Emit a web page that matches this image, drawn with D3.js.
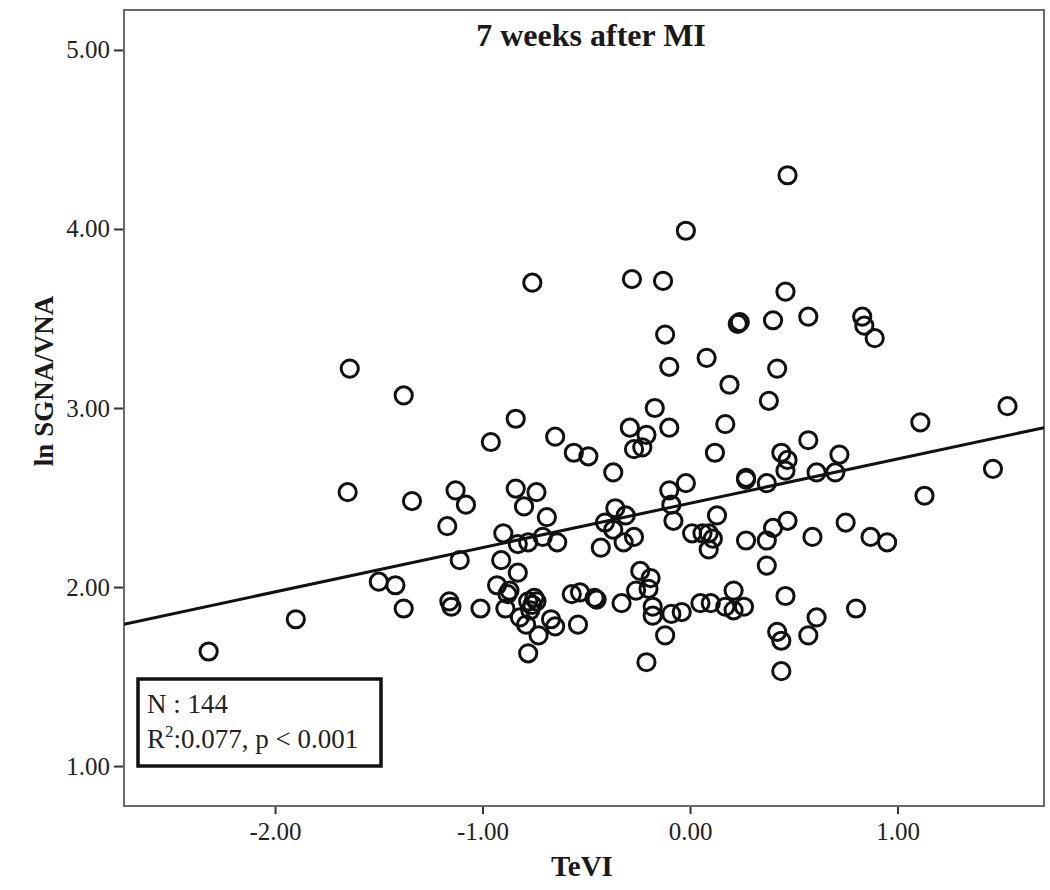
<!DOCTYPE html>
<html>
<head>
<meta charset="utf-8">
<script src="https://cdn.jsdelivr.net/npm/d3@7"></script>
<style>
  html, body { margin: 0; padding: 0; background: #fff; }
  svg { display: block; }
  text { font-family: "Liberation Serif", "Times New Roman", serif; }
</style>
</head>
<body>
<svg id="chart" width="1050" height="890"></svg>
<script>
// ---- data ----
const teVI = [
  -1.64,-1.38,-1.65,-1.34,-1.13,-1.08,-1.17,-1.50,-1.42,-1.38,-1.90,-2.32,-1.16,-1.15,
  -0.10,-0.17,-0.84,-0.96,-0.65,-0.29,-0.21,-0.10,-0.27,-0.23,-0.56,-0.49,-0.37,-0.84,
  -0.74,-0.80,-0.69,-0.90,-0.83,-0.78,-0.71,-0.64,-0.41,-0.36,-0.31,-0.37,-0.27,-0.32,
  -0.43,-0.10,-0.09,-0.08,-1.11,-0.91,-0.83,-0.93,-0.87,-0.88,-1.01,-0.89,-0.75,-0.74,
  -0.76,-0.82,-0.79,-0.73,-0.67,-0.65,-0.57,-0.53,-0.46,-0.45,-0.54,-0.78,-0.33,-0.24,
  -0.19,-0.26,-0.20,-0.18,-0.18,-0.09,-0.12,-0.21,
  0.08,0.42,0.19,0.38,0.17,0.57,0.12,0.44,0.47,0.46,0.72,0.61,0.70,0.27,0.27,0.37,-0.02,
  0.13,0.47,0.40,0.75,0.01,0.06,0.09,0.11,0.09,0.27,0.37,0.59,0.87,0.95,0.37,0.21,0.26,
  0.46,0.80,0.05,0.10,0.17,0.21,-0.04,0.42,0.44,0.61,0.57,0.44,
  0.47,-0.02,-0.13,0.46,0.23,0.24,0.40,0.57,0.83,0.84,0.89,-0.12,-0.76,-0.28,
  1.53,1.11,1.46,1.13,-0.77,-0.78
];
const lnSGNA = [
  3.22,3.07,2.53,2.48,2.54,2.46,2.34,2.03,2.01,1.88,1.82,1.64,1.92,1.89,
  3.23,3.00,2.94,2.81,2.84,2.89,2.85,2.89,2.77,2.78,2.75,2.73,2.64,2.55,
  2.53,2.45,2.39,2.30,2.24,2.25,2.28,2.25,2.36,2.44,2.40,2.32,2.28,2.25,
  2.22,2.54,2.46,2.37,2.15,2.15,2.08,2.01,1.98,1.96,1.88,1.88,1.94,1.92,
  1.90,1.83,1.79,1.73,1.82,1.78,1.96,1.97,1.94,1.93,1.79,1.63,1.91,2.09,
  2.05,1.98,1.99,1.89,1.84,1.85,1.73,1.58,
  3.28,3.22,3.13,3.04,2.91,2.82,2.75,2.75,2.71,2.65,2.74,2.64,2.64,2.61,2.60,2.58,2.58,
  2.40,2.37,2.33,2.36,2.30,2.30,2.30,2.27,2.21,2.26,2.26,2.28,2.28,2.25,2.12,1.98,1.89,
  1.95,1.88,1.91,1.91,1.89,1.87,1.86,1.75,1.70,1.83,1.73,1.53,
  4.30,3.99,3.71,3.65,3.47,3.48,3.49,3.51,3.51,3.46,3.39,3.41,3.70,3.72,
  3.01,2.92,2.66,2.51,1.87,1.92
];
const xTicks = [-2, -1, 0, 1];
const yTicks = [1, 2, 3, 4, 5];
const xDomain = [-2.728, 1.706];
const yDomain = [0.777, 5.223];
const fitSlope = 0.2476;
const fitIntercept = 2.468;
const titleText = "7 weeks after MI";
const xLabelText = "TeVI";
const yLabelText = "ln SGNA/VNA";
const statN = "N : 144";
const statR2 = ":0.077, p < 0.001";

// ---- layout ----
const svg = d3.select("#chart");
const L = 124, R = 1044, T = 10, B = 806;
const x = d3.scaleLinear().domain(xDomain).range([L, R]);
const y = d3.scaleLinear().domain(yDomain).range([B, T]);
const fmt = d => d.toFixed(2);

svg.append("rect").attr("width", 1050).attr("height", 890).attr("fill", "#fff");

// axes
const xAxis = svg.append("g").attr("transform", `translate(0,${B})`)
  .call(d3.axisBottom(x).tickValues(xTicks).tickFormat(fmt).tickSize(8).tickPadding(8));
const yAxis = svg.append("g").attr("transform", `translate(${L},0)`)
  .call(d3.axisLeft(y).tickValues(yTicks).tickFormat(fmt).tickSize(10).tickPadding(4));
[xAxis, yAxis].forEach(g => {
  g.select(".domain").remove();
  g.selectAll(".tick line").attr("stroke", "#333").attr("stroke-width", 2);
  g.selectAll(".tick text").attr("fill", "#222")
    .style("font-family", '"Liberation Serif", serif').style("font-size", "25px");
});

// frame
svg.append("rect").attr("x", L).attr("y", T).attr("width", R - L).attr("height", B - T)
  .attr("fill", "none").attr("stroke", "#6a6a6a").attr("stroke-width", 2);

// regression line
const clip = svg.append("clipPath").attr("id", "plotclip")
  .append("rect").attr("x", L).attr("y", T).attr("width", R - L).attr("height", B - T);
svg.append("line")
  .attr("clip-path", "url(#plotclip)")
  .attr("x1", x(xDomain[0])).attr("y1", y(fitIntercept + fitSlope * xDomain[0]))
  .attr("x2", x(xDomain[1])).attr("y2", y(fitIntercept + fitSlope * xDomain[1]))
  .attr("stroke", "#111").attr("stroke-width", 3);

// points
const pts = teVI.map((v, i) => ({ x: v, y: lnSGNA[i] }));
svg.append("g").selectAll("circle").data(pts).join("circle")
  .attr("cx", d => x(d.x)).attr("cy", d => y(d.y)).attr("r", 8.6)
  .attr("fill", "none").attr("stroke", "#111").attr("stroke-width", 3);

// title
svg.append("text").attr("x", 591).attr("y", 46).attr("text-anchor", "middle")
  .attr("font-weight", "bold").attr("font-size", 32).attr("fill", "#1a1a1a").text(titleText);

// axis labels
svg.append("text").attr("x", 582).attr("y", 876).attr("text-anchor", "middle")
  .attr("font-weight", "bold").attr("font-size", 29).attr("fill", "#1a1a1a").text(xLabelText);
svg.append("text").attr("transform", "translate(53,381) rotate(-90)").attr("text-anchor", "middle")
  .attr("font-weight", "bold").attr("font-size", 27).attr("fill", "#1a1a1a").text(yLabelText);

// stats box
svg.append("rect").attr("x", 138).attr("y", 679).attr("width", 243).attr("height", 87)
  .attr("fill", "#fff").attr("stroke", "#111").attr("stroke-width", 3.5);
svg.append("text").attr("x", 147).attr("y", 713).attr("font-size", 27).attr("fill", "#222").text(statN);
const t2 = svg.append("text").attr("x", 147).attr("y", 748).attr("font-size", 27).attr("fill", "#222");
t2.append("tspan").text("R");
t2.append("tspan").attr("dy", -11).attr("font-size", 17).text("2");
t2.append("tspan").attr("dy", 11).text(statR2);
</script>
</body>
</html>
